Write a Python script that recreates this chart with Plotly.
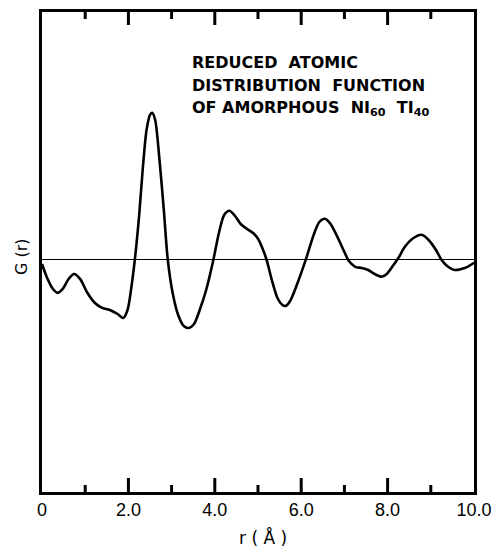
import plotly.graph_objects as go

# r in Angstrom and reduced distribution function G(r) (arbitrary units)
r_vals = [0.00, 0.12, 0.25, 0.36, 0.48, 0.62, 0.74, 0.88, 1.05, 1.22, 1.38, 1.57, 1.75, 1.88,
          1.98, 2.06, 2.15, 2.25, 2.33, 2.42, 2.50, 2.55, 2.62, 2.72, 2.82, 2.91, 3.02, 3.15,
          3.28, 3.40, 3.52, 3.65, 3.80, 3.97, 4.10, 4.22, 4.34, 4.47, 4.60, 4.74, 4.88, 5.00,
          5.10, 5.20, 5.32, 5.45, 5.56, 5.64, 5.74, 5.90, 6.11, 6.28, 6.42, 6.55, 6.68, 6.85,
          7.00, 7.10, 7.25, 7.40, 7.55, 7.70, 7.86, 7.98, 8.12, 8.25, 8.40, 8.60, 8.79, 8.95,
          9.12, 9.25, 9.40, 9.55, 9.72, 9.85, 10.00]
g_vals = [-0.12, -0.47, -0.74, -0.84, -0.74, -0.49, -0.37, -0.49, -0.84, -1.09, -1.21, -1.27, -1.37, -1.47,
          -1.27, -0.77, 0.00, 1.11, 2.23, 3.23, 3.61, 3.66, 3.48, 2.48, 1.23, 0.00, -0.82, -1.39,
          -1.67, -1.72, -1.62, -1.27, -0.77, 0.00, 0.68, 1.11, 1.21, 1.08, 0.88, 0.76, 0.66, 0.51,
          0.28, -0.02, -0.52, -0.97, -1.14, -1.17, -1.05, -0.64, 0.00, 0.58, 0.93, 1.01, 0.88, 0.53,
          0.18, -0.04, -0.19, -0.22, -0.27, -0.37, -0.44, -0.37, -0.17, 0.03, 0.31, 0.53, 0.61, 0.48,
          0.23, -0.02, -0.19, -0.27, -0.24, -0.19, -0.09]

x_tick_vals = [0, 2, 4, 6, 8, 10]
x_tick_text = ["0", "2.0", "4.0", "6.0", "8.0", "10.0"]
major_tick_vals = [2, 4, 6, 8]
minor_tick_vals = [1, 3, 5, 7, 9]

FONT = "Liberation Sans, Arial, sans-serif"
FONT_W = "DejaVu Sans, sans-serif"

W, H = 494, 550
L, R, T, B = 42, 20, 12, 58
ph = H - T - B
pw = W - L - R
Y0, Y1 = -5.82, 6.18
per_px = (Y1 - Y0) / ph

def py(ypx):
    return (H - B - ypx) / ph

fig = go.Figure()

# inward tick marks on bottom and top edges, drawn as one line trace
tx, ty = [], []
for vals, lb, lt in ((major_tick_vals, 14, 13), (minor_tick_vals, 7, 7)):
    for v in vals:
        tx += [v, v, None, v, v, None]
        ty += [Y0, Y0 + lb * per_px, None, Y1, Y1 - lt * per_px, None]
fig.add_trace(go.Scatter(x=tx, y=ty, mode="lines", line=dict(color="black", width=3),
                         showlegend=False, hoverinfo="skip", connectgaps=False))

fig.add_trace(go.Scatter(x=r_vals, y=g_vals, mode="lines",
                         line=dict(color="black", width=2.6, shape="spline", smoothing=0.8),
                         showlegend=False, hoverinfo="skip"))

fig.update_layout(
    width=W, height=H,
    margin=dict(l=L, r=R, t=T, b=B, autoexpand=False),
    paper_bgcolor="white", plot_bgcolor="white",
    font=dict(family=FONT, color="black"),
    xaxis=dict(range=[0, 10], showgrid=False, zeroline=False,
               showline=True, linecolor="black", linewidth=2.5, mirror=True,
               automargin=False,
               tickvals=x_tick_vals, ticktext=x_tick_text, ticks="",
               tickfont=dict(size=18, family=FONT)),
    yaxis=dict(range=[Y0, Y1], showgrid=False, showticklabels=False, ticks="",
               showline=True, linecolor="black", linewidth=2.5, mirror=True,
               automargin=False,
               zeroline=True, zerolinecolor="black", zerolinewidth=1.2),
)

ann_font = dict(size=16, family=FONT_W, color="black", weight="bold")
lines = ["REDUCED  ATOMIC", "DISTRIBUTION  FUNCTION", "OF AMORPHOUS  NI<sub>60</sub>  TI<sub>40</sub>"]
ys = [63, 85, 109]
for txt, y in zip(lines, ys):
    fig.add_annotation(x=(190 - L) / pw, y=py(y), xref="paper", yref="paper",
                       text=txt, showarrow=False, xanchor="left", yanchor="middle", font=ann_font)

fig.add_annotation(x=(21 - L) / pw, y=py(257), xref="paper", yref="paper",
                   text="G (r)", textangle=-90, showarrow=False,
                   xanchor="center", yanchor="middle", font=dict(size=16, family=FONT_W))
fig.add_annotation(x=(263 - L) / pw, y=py(537), xref="paper", yref="paper",
                   text="r ( Å )", showarrow=False,
                   xanchor="center", yanchor="middle", font=dict(size=17, family=FONT_W))

fig.write_html("out.html")
